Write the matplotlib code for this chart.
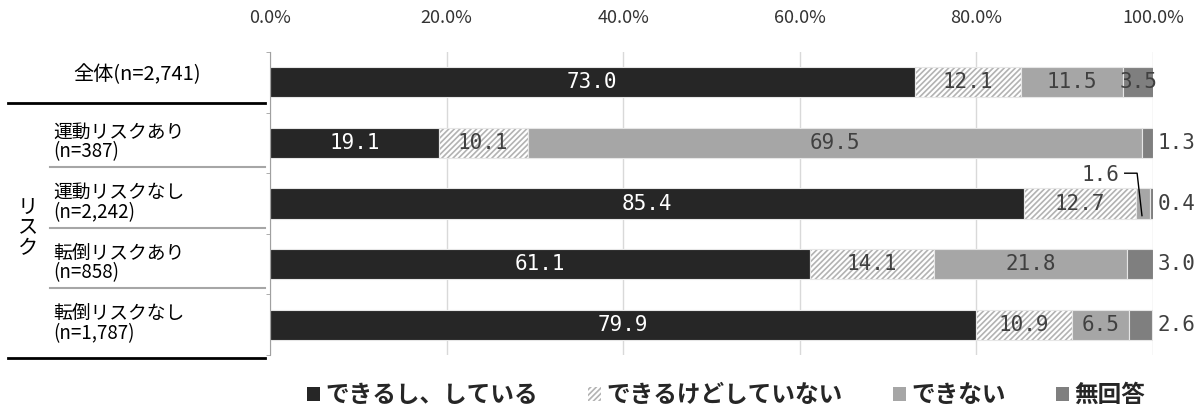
import matplotlib
matplotlib.use("Agg")
import matplotlib.pyplot as plt
from matplotlib.lines import Line2D
from matplotlib.patches import Patch
import numpy as np

# data
groups = ["全体(n=2,741)", "運動リスクあり\n(n=387)", "運動リスクなし\n(n=2,242)",
          "転倒リスクあり\n(n=858)", "転倒リスクなし\n(n=1,787)"]
series = ["できるし、している", "できるけどしていない", "できない", "無回答"]
can_do = [73.0, 19.1, 85.4, 61.1, 79.9]
can_not_doing = [12.1, 10.1, 12.7, 14.1, 10.9]
cannot = [11.5, 69.5, 1.6, 21.8, 6.5]
no_answer = [3.5, 1.3, 0.4, 3.0, 2.6]
xticks = [0, 20, 40, 60, 80, 100]

JP = "Noto Sans CJK JP"
NUM = "DejaVu Sans Mono"
plt.rcParams['font.family'] = [JP, 'DejaVu Sans']
plt.rcParams['hatch.linewidth'] = 1.2

W, H = 1200, 405
fig = plt.figure(figsize=(12, 4.05), dpi=100)
ax = fig.add_axes([270 / W, 1 - 355 / H, 883 / W, 303 / H])

colors = ["#262626", "white", "#a6a6a6", "#7f7f7f"]
values = [can_do, can_not_doing, cannot, no_answer]
y = np.arange(len(groups))
left = np.zeros(len(groups))
for i, vals in enumerate(values):
    vals = np.array(vals)
    if i == 1:
        ax.barh(y, vals, left=left, height=0.5, color="white", edgecolor="#b3b3b3",
                hatch="//////", linewidth=0, zorder=3)
        ax.barh(y, vals, left=left, height=0.5, color="none", edgecolor="#e6e6e6",
                linewidth=0.8, zorder=3)
    else:
        ax.barh(y, vals, left=left, height=0.5, color=colors[i], edgecolor="#e6e6e6",
                linewidth=0.8, zorder=3)
    for r in range(len(groups)):
        v = vals[r]
        c = left[r] + v / 2
        txtc = "white" if i == 0 else "#404040"
        if i == 3 and r > 0:
            ax.text(100.5, r, f"{v:.1f}", ha="left", va="center", fontsize=15,
                    family=NUM, color="#404040", zorder=4)
        elif i == 2 and v < 2:
            # small value placed above with a leader line
            ax.text(c - 4.8, r - 0.47, f"{v:.1f}", ha="center", va="center", fontsize=15,
                    family=NUM, color="#404040", zorder=4)
            ax.plot([c - 2.1, c - 0.7, c - 0.15], [r - 0.5, r - 0.5, r + 0.2],
                    color="black", lw=1, zorder=5)
        else:
            ax.text(c, r, f"{v:.1f}", ha="center", va="center", fontsize=15,
                    family=NUM, color=txtc, zorder=4)
    left += vals

ax.set_xlim(0, 100)
ax.set_ylim(len(groups) - 0.5, -0.5)
ax.set_xticks(xticks)
ax.set_xticklabels([f"{t:.1f}%" for t in xticks], fontsize=13, color="#333333")
ax.xaxis.tick_top()
ax.tick_params(axis="x", length=0, pad=18)
ax.set_yticks([])
ax.set_yticks(np.arange(len(groups) + 1) - 0.5, minor=True)
ax.tick_params(axis="y", which="minor", length=3, color="#a0a0a0", labelleft=False)
ax.grid(axis="x", color="#d9d9d9", lw=1, zorder=0)
for s in ["top", "right", "bottom"]:
    ax.spines[s].set_visible(False)
ax.spines["left"].set_color("#a0a0a0")
ax.spines["left"].set_zorder(5)

# left label table
def fx(px):
    return px / W

def fy(py):
    return 1 - py / H

fig.text(fx(137), fy(75), groups[0], ha="center", va="center", fontsize=14.5)
for r in range(1, len(groups)):
    ry = 52 + 60.6 * (r + 0.5)
    top, bottom = groups[r].split("\n")
    fig.text(fx(53), fy(ry - 11), top, ha="left", va="center", fontsize=13.5)
    fig.text(fx(53), fy(ry + 9), bottom, ha="left", va="center", fontsize=13.5)
fig.text(fx(28), fy(228), "リ\nス\nク", ha="center", va="center", fontsize=14.5, linespacing=0.95)

fig.add_artist(Line2D([fx(8), fx(265)], [fy(103), fy(103)], color="black", lw=2))
fig.add_artist(Line2D([fx(8), fx(265)], [fy(358), fy(358)], color="black", lw=2))
for r in range(2, len(groups)):
    ly = 52 + 60.6 * r - 6
    fig.add_artist(Line2D([fx(50), fx(265)], [fy(ly), fy(ly)], color="#a6a6a6", lw=1.5))

# legend
handles = [Patch(facecolor=colors[0]),
           Patch(facecolor="white", edgecolor="#b3b3b3", hatch="//////", linewidth=0),
           Patch(facecolor=colors[2]),
           Patch(facecolor=colors[3])]
fig.legend(handles, series, loc="center", bbox_to_anchor=(fx(726), fy(395)), ncol=4,
           frameon=False, prop={"family": JP, "weight": "bold", "size": 17},
           handlelength=0.55, handleheight=0.55, handletextpad=0.25, columnspacing=2.1,
           labelcolor="#262626")

fig.savefig("out.png", dpi=100)
